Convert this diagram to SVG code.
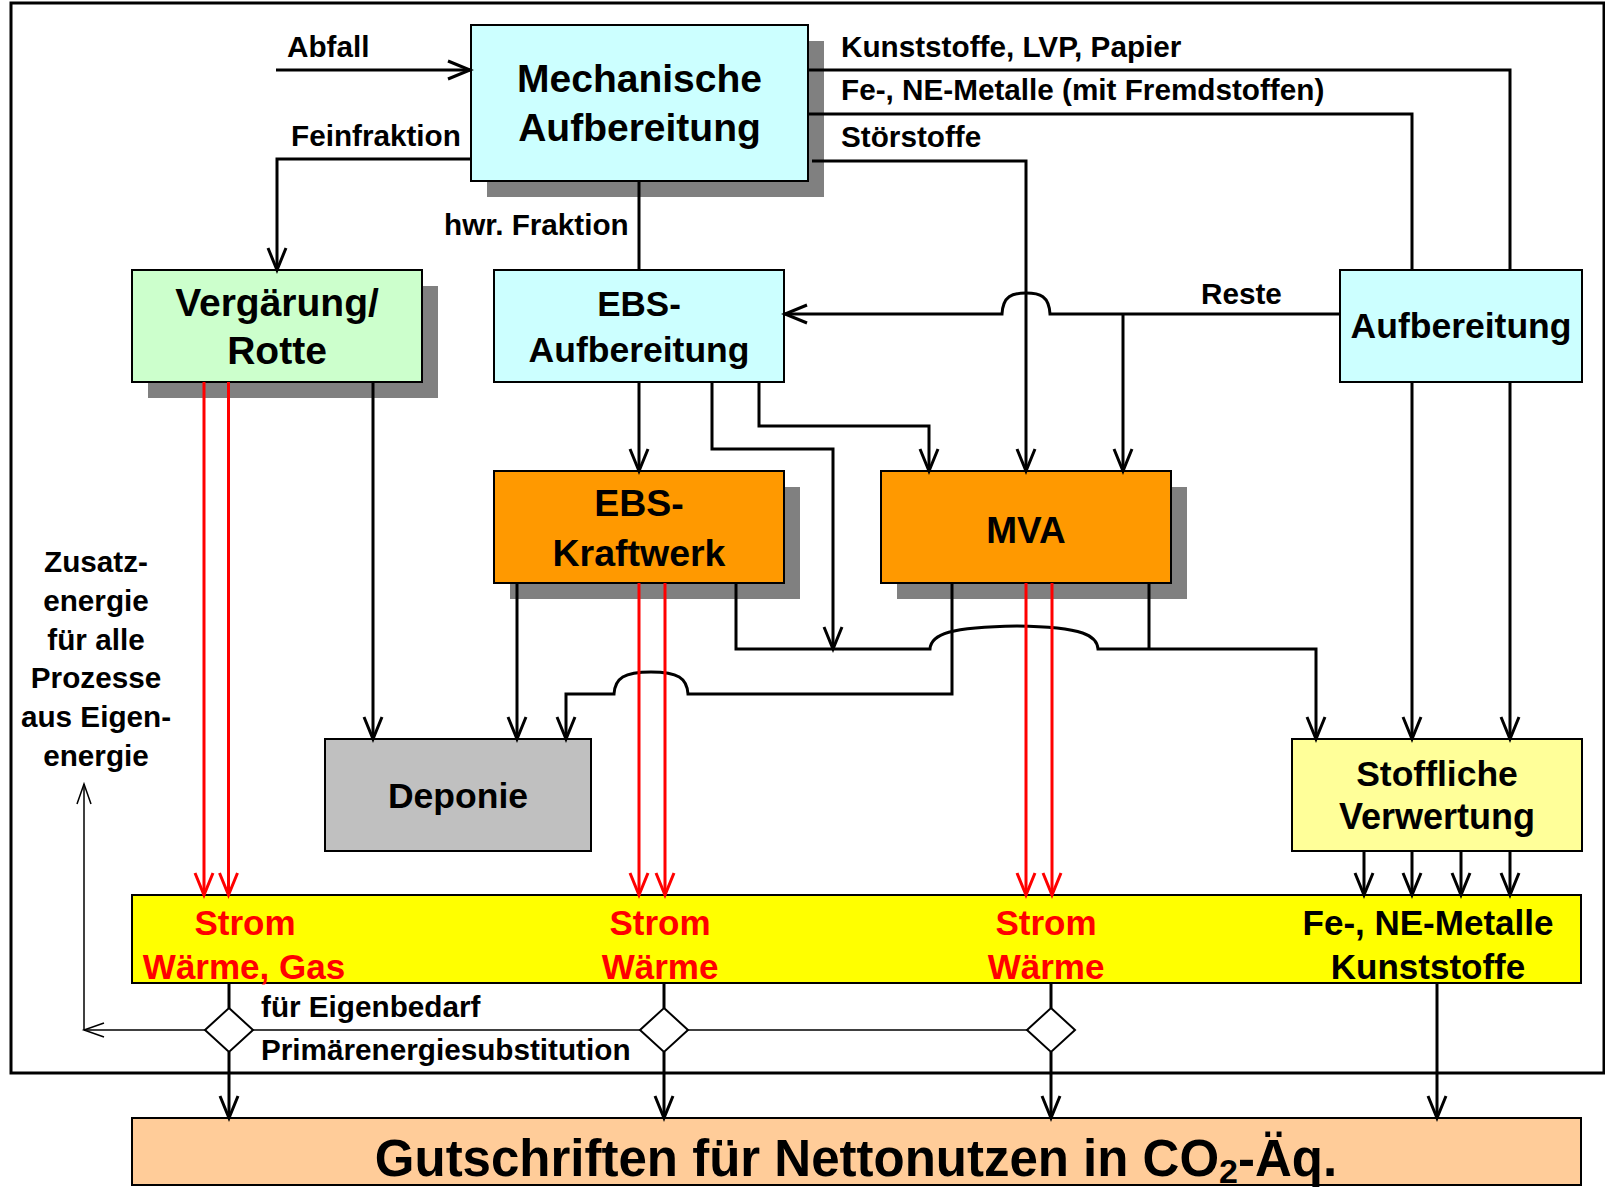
<svg xmlns="http://www.w3.org/2000/svg" width="1605" height="1189" viewBox="0 0 1605 1189">
<defs>
<style>
.t{font-family:"Liberation Sans",Arial,sans-serif;font-weight:bold;fill:#000}
.n{stroke:#000;stroke-width:2}
.sh{fill:#808080}
.c{fill:none;stroke:#000;stroke-width:3}
.r{fill:none;stroke:#FF0000;stroke-width:3}
.th{fill:none;stroke:#000;stroke-width:1.5}
.lb{font-size:29.7px}
.big{text-anchor:middle}
</style>
<marker id="ab" viewBox="-24 -12 28 24" refX="0" refY="0" markerWidth="28" markerHeight="24" markerUnits="userSpaceOnUse" orient="auto">
<path d="M-22,-9 L0,0 L-22,9" fill="none" stroke="#000" stroke-width="3"/>
</marker>
<marker id="ar" viewBox="-24 -12 28 24" refX="0" refY="0" markerWidth="28" markerHeight="24" markerUnits="userSpaceOnUse" orient="auto">
<path d="M-22,-9 L0,0 L-22,9" fill="none" stroke="#FF0000" stroke-width="3"/>
</marker>
<marker id="at" viewBox="-22 -10 25 20" refX="0" refY="0" markerWidth="25" markerHeight="20" markerUnits="userSpaceOnUse" orient="auto">
<path d="M-20,-7 L0,0 L-20,7" fill="none" stroke="#000" stroke-width="1.5"/>
</marker>
</defs>
<rect x="0" y="0" width="1605" height="1189" fill="#fff"/>
<rect x="11" y="3" width="1593" height="1070" fill="none" stroke="#000" stroke-width="3"/>

<g id="mech">
<rect class="sh" x="487" y="41" width="337" height="156"/>
<rect class="n" x="471" y="25" width="337" height="156" fill="#CCFFFF"/>
<text class="t big" x="639.5" y="92" font-size="39">Mechanische</text>
<text class="t big" x="639.5" y="141" font-size="39">Aufbereitung</text>
</g>
<g id="vergaerung">
<rect class="sh" x="148" y="286" width="290" height="112"/>
<rect class="n" x="132" y="270" width="290" height="112" fill="#CCFFCC"/>
<text class="t big" x="277" y="316" font-size="39">Vergärung/</text>
<text class="t big" x="277" y="364" font-size="39">Rotte</text>
</g>
<g id="ebs-aufbereitung">
<rect class="n" x="494" y="270" width="290" height="112" fill="#CCFFFF"/>
<text class="t big" x="639" y="316" font-size="35">EBS-</text>
<text class="t big" x="639" y="362" font-size="35.5">Aufbereitung</text>
</g>
<g id="aufbereitung">
<rect class="n" x="1340" y="270" width="242" height="112" fill="#CCFFFF"/>
<text class="t big" x="1461" y="338" font-size="35.5">Aufbereitung</text>
</g>
<g id="ebs-kraftwerk">
<rect class="sh" x="510" y="487" width="290" height="112"/>
<rect class="n" x="494" y="471" width="290" height="112" fill="#FF9900"/>
<text class="t big" x="639" y="516" font-size="37.5">EBS-</text>
<text class="t big" x="639" y="566" font-size="37.5">Kraftwerk</text>
</g>
<g id="mva">
<rect class="sh" x="897" y="487" width="290" height="112"/>
<rect class="n" x="881" y="471" width="290" height="112" fill="#FF9900"/>
<text class="t big" x="1026" y="543" font-size="37">MVA</text>
</g>
<g id="deponie">
<rect class="n" x="325" y="739" width="266" height="112" fill="#C0C0C0"/>
<text class="t big" x="458" y="808" font-size="35.5">Deponie</text>
</g>
<g id="stoffliche">
<rect class="n" x="1292" y="739" width="290" height="112" fill="#FFFF99"/>
<text class="t big" x="1437" y="786" font-size="35.5">Stoffliche</text>
<text class="t big" x="1437" y="829" font-size="36">Verwertung</text>
</g>
<g id="produkte">
<rect class="n" x="132" y="895" width="1449" height="88" fill="#FFFF00"/>
<text class="t big" x="245" y="935" font-size="35" style="fill:#FF0000">Strom</text>
<text class="t big" x="244" y="979" font-size="35" style="fill:#FF0000">Wärme, Gas</text>
<text class="t big" x="660" y="935" font-size="35" style="fill:#FF0000">Strom</text>
<text class="t big" x="660" y="979" font-size="35" style="fill:#FF0000">Wärme</text>
<text class="t big" x="1046" y="935" font-size="35" style="fill:#FF0000">Strom</text>
<text class="t big" x="1046" y="979" font-size="35" style="fill:#FF0000">Wärme</text>
<text class="t big" x="1428" y="935" font-size="35">Fe-, NE-Metalle</text>
<text class="t big" x="1428" y="979" font-size="35">Kunststoffe</text>
</g>
<g id="gutschriften">
<rect class="n" x="132" y="1118" width="1449" height="67" fill="#FFCC99"/>
<text class="t big" x="856" y="1176" font-size="51">Gutschriften für Nettonutzen in CO<tspan font-size="34" dy="7">2</tspan><tspan dy="-7">-Äq.</tspan></text>
</g>
<g id="d1"><polygon points="229,1008 253,1030 229,1052 205,1030" fill="#fff" stroke="#000" stroke-width="2"/></g>
<g id="d2"><polygon points="664,1008 688,1030 664,1052 640,1030" fill="#fff" stroke="#000" stroke-width="2"/></g>
<g id="d3"><polygon points="1051,1008 1075,1030 1051,1052 1027,1030" fill="#fff" stroke="#000" stroke-width="2"/></g>

<g id="connectors">
<path class="c" d="M276,70 H470" marker-end="url(#ab)"/>
<path class="c" d="M471,159 H277 V270" marker-end="url(#ab)"/>
<path class="c" d="M639,181 V270"/>
<path class="c" d="M808,70 H1510 V270"/>
<path class="c" d="M808,114 H1412 V270"/>
<path class="c" d="M812,161 H1026 V471" marker-end="url(#ab)"/>
<path class="c" d="M1340,314 H1050 C1049,296 1040,293 1026,293 C1012,293 1003,296 1002,314 H785" marker-end="url(#ab)"/>
<path class="c" d="M1123,314 V471" marker-end="url(#ab)"/>
<path class="c" d="M639,382 V471" marker-end="url(#ab)"/>
<path class="c" d="M712,382 V449 H833 V649" marker-end="url(#ab)"/>
<path class="c" d="M759,382 V426 H929 V471" marker-end="url(#ab)"/>
<path class="c" d="M373,382 V739" marker-end="url(#ab)"/>
<path class="c" d="M517,583 V739" marker-end="url(#ab)"/>
<path class="c" d="M736,583 V649 H930 C931,634 950,627 1017,626 C1085,627 1097,636 1098,649 H1316 V739" marker-end="url(#ab)"/>
<path class="c" d="M1149,583 V649"/>
<path class="c" d="M952,583 V694 H688 C687,678 678,672 651,672 C624,672 615,678 614,694 H566 V739" marker-end="url(#ab)"/>
<path class="c" d="M1412,382 V739" marker-end="url(#ab)"/>
<path class="c" d="M1510,382 V739" marker-end="url(#ab)"/>
<path class="c" d="M1364,851 V895" marker-end="url(#ab)"/>
<path class="c" d="M1412,851 V895" marker-end="url(#ab)"/>
<path class="c" d="M1461,851 V895" marker-end="url(#ab)"/>
<path class="c" d="M1510,851 V895" marker-end="url(#ab)"/>
<path class="c" d="M1437,983 V1118" marker-end="url(#ab)"/>
<path class="r" d="M204,382 V895" marker-end="url(#ar)"/>
<path class="r" d="M228.5,382 V895" marker-end="url(#ar)"/>
<path class="r" d="M639,583 V895" marker-end="url(#ar)"/>
<path class="r" d="M665,583 V895" marker-end="url(#ar)"/>
<path class="r" d="M1026,583 V895" marker-end="url(#ar)"/>
<path class="r" d="M1052,583 V895" marker-end="url(#ar)"/>
<path class="c" d="M229,983 V1008"/>
<path class="c" d="M229,1052 V1118" marker-end="url(#ab)"/>
<path class="c" d="M664,983 V1008"/>
<path class="c" d="M664,1052 V1118" marker-end="url(#ab)"/>
<path class="c" d="M1051,983 V1008"/>
<path class="c" d="M1051,1052 V1118" marker-end="url(#ab)"/>
<path class="th" d="M205,1030 H84" marker-end="url(#at)"/>
<path class="th" d="M84,1030 V784" marker-end="url(#at)"/>
<path class="th" d="M253,1030 H640"/>
<path class="th" d="M688,1030 H1027"/>
<text class="t lb" x="287" y="57">Abfall</text>
<text class="t lb" x="291" y="146">Feinfraktion</text>
<text class="t lb" x="444" y="235">hwr. Fraktion</text>
<text class="t lb" x="841" y="57">Kunststoffe, LVP, Papier</text>
<text class="t lb" x="841" y="100">Fe-, NE-Metalle (mit Fremdstoffen)</text>
<text class="t lb" x="841" y="147">Störstoffe</text>
<text class="t lb" x="1201" y="304">Reste</text>
<text class="t lb" x="261" y="1017">für Eigenbedarf</text>
<text class="t lb" x="261" y="1060">Primärenergiesubstitution</text>
<g class="t lb" text-anchor="middle">
<text x="96" y="572">Zusatz-</text>
<text x="96" y="611">energie</text>
<text x="96" y="649.5">für alle</text>
<text x="96" y="688">Prozesse</text>
<text x="96" y="727">aus Eigen-</text>
<text x="96" y="765.5">energie</text>
</g>
</g>
</svg>
